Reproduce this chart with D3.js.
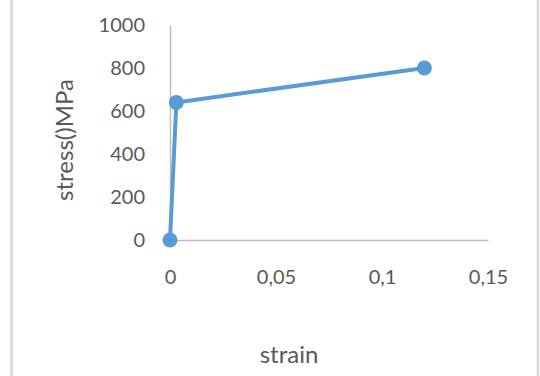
<!DOCTYPE html>
<html>
<head>
<meta charset="utf-8">
<script src="https://cdn.jsdelivr.net/npm/d3@7"></script>
<style>
  html, body { margin: 0; padding: 0; background: #fff; }
  svg { display: block; }
  text { font-family: Lato, "Open Sans", sans-serif; fill: #595959; }
</style>
</head>
<body>
<svg id="chart" width="540" height="376"></svg>
<script>
// Stress–strain points
const strain = [0, 0.003, 0.12];
const stress = [0, 640, 800];

const xTicks = [0, 0.05, 0.1, 0.15];
const yTicks = [0, 200, 400, 600, 800, 1000];

const xTitle = "strain";
const yTitle = "stress()MPa";

const svg = d3.select("#chart");
const W = 540, H = 376;
const plot = { left: 170, right: 488, top: 25, bottom: 240 };

// Chart area frame (extends past the top and bottom edges)
svg.append("rect")
  .attr("x", 11.5).attr("y", -10)
  .attr("width", 526.5).attr("height", H + 20)
  .attr("fill", "#fff")
  .attr("stroke", "#d9d9d9").attr("stroke-width", 2.5);

const x = d3.scaleLinear().domain([0, 0.15]).range([plot.left, plot.right]);
const y = d3.scaleLinear().domain([0, 1000]).range([plot.bottom, plot.top]);

const fmt = d => d3.format("")(d).replace(".", ",");

// Y axis: line, no tick marks
const yAxis = svg.append("g")
  .attr("transform", `translate(${plot.left},0)`)
  .call(d3.axisLeft(y).tickValues(yTicks).tickSize(0).tickPadding(25).tickFormat(d => d));
yAxis.select(".domain").attr("stroke", "#bfbfbf").attr("stroke-width", 1.5);
yAxis.selectAll("text").attr("font-size", 20).attr("fill", "#595959")
  .attr("font-family", "Lato, 'Open Sans', sans-serif");

// X axis
const xAxis = svg.append("g")
  .attr("transform", `translate(0,${plot.bottom})`)
  .call(d3.axisBottom(x).tickValues(xTicks).tickSize(0).tickPadding(30).tickFormat(fmt));
xAxis.select(".domain").attr("stroke", "#bfbfbf").attr("stroke-width", 1.5);
xAxis.selectAll("text").attr("font-size", 20).attr("fill", "#595959")
  .attr("font-family", "Lato, 'Open Sans', sans-serif");

// Axis titles
svg.append("text")
  .attr("x", 289).attr("y", 363)
  .attr("text-anchor", "middle")
  .attr("font-size", 24)
  .text(xTitle);

svg.append("text")
  .attr("transform", "translate(73,140) rotate(-90)")
  .attr("text-anchor", "middle")
  .attr("font-size", 24)
  .text(yTitle);

// Series line and markers
const pts = strain.map((s, i) => [s, stress[i]]);
svg.append("path")
  .datum(pts)
  .attr("fill", "none")
  .attr("stroke", "#5b9bd5")
  .attr("stroke-width", 4)
  .attr("stroke-linejoin", "round")
  .attr("d", d3.line().x(d => x(d[0])).y(d => y(d[1])));

svg.selectAll("circle.pt")
  .data(pts)
  .join("circle")
  .attr("class", "pt")
  .attr("cx", d => x(d[0]))
  .attr("cy", d => y(d[1]))
  .attr("r", 7.5)
  .attr("fill", "#5b9bd5");
</script>
</body>
</html>
